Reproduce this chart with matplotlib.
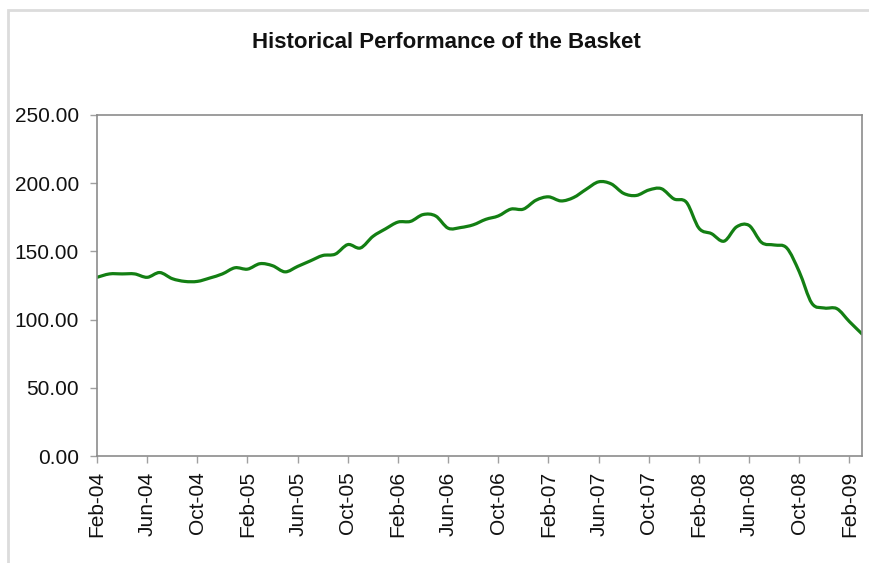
import matplotlib
matplotlib.use("Agg")
import matplotlib.pyplot as plt
from matplotlib.path import Path
from matplotlib.patches import PathPatch, Rectangle
import numpy as np

months = ["Feb-04","Mar-04","Apr-04","May-04","Jun-04","Jul-04","Aug-04","Sep-04","Oct-04","Nov-04","Dec-04",
          "Jan-05","Feb-05","Mar-05","Apr-05","May-05","Jun-05","Jul-05","Aug-05","Sep-05","Oct-05","Nov-05","Dec-05",
          "Jan-06","Feb-06","Mar-06","Apr-06","May-06","Jun-06","Jul-06","Aug-06","Sep-06","Oct-06","Nov-06","Dec-06",
          "Jan-07","Feb-07","Mar-07","Apr-07","May-07","Jun-07","Jul-07","Aug-07","Sep-07","Oct-07","Nov-07","Dec-07",
          "Jan-08","Feb-08","Mar-08","Apr-08","May-08","Jun-08","Jul-08","Aug-08","Sep-08","Oct-08","Nov-08","Dec-08",
          "Jan-09","Feb-09","Mar-09"]
values = [131, 133.5, 133.5, 133.5, 131, 134.5, 130, 128, 128, 130.5, 133.5,
          138, 137, 141, 139.5, 135, 139, 143, 147, 148, 155, 152.5, 161,
          166.5, 171.5, 172, 177, 176, 167, 167.5, 169.5, 173.5, 176, 181, 181,
          187.5, 190, 187, 189.5, 195.5, 201, 199.5, 192.5, 191, 195, 196, 188.5,
          186, 167, 163, 157.5, 168, 169, 156.5, 154.7, 152.5, 135, 112, 108.5,
          108, 98.5, 89.5]
y_ticks = [0, 50, 100, 150, 200, 250]
title = "Historical Performance of the Basket"

plt.rcParams['font.family'] = ['Liberation Sans', 'DejaVu Sans']

fig = plt.figure(figsize=(8.7, 5.63), dpi=100)
ax = fig.add_axes([97/870, 1-456/563, (862-97)/870, (456-115)/563])

# smoothed line (Catmull-Rom style Bezier, like Excel's smoothed line)
x = np.arange(len(values), dtype=float)
y = np.array(values, dtype=float)
verts = [(x[0], y[0])]
codes = [Path.MOVETO]
n = len(x)
for i in range(n - 1):
    p0 = (x[i-1], y[i-1]) if i > 0 else (x[i], y[i])
    p1 = (x[i], y[i])
    p2 = (x[i+1], y[i+1])
    p3 = (x[i+2], y[i+2]) if i + 2 < n else (x[i+1], y[i+1])
    t = 1/6
    c1 = (p1[0] + (p2[0]-p0[0])*t, p1[1] + (p2[1]-p0[1])*t)
    c2 = (p2[0] - (p3[0]-p1[0])*t, p2[1] - (p3[1]-p1[1])*t)
    verts += [c1, c2, p2]
    codes += [Path.CURVE4]*3
patch = PathPatch(Path(verts, codes), facecolor='none', edgecolor='#137f13', lw=2.3,
                  capstyle='round', joinstyle='round')
ax.add_patch(patch)

ax.set_xlim(0, len(values)-1)
ax.set_ylim(0, 250)
ax.set_yticks(y_ticks)
ax.set_yticklabels([f"{v:.2f}" for v in y_ticks], fontsize=15, color='#111111')
ax.set_xticks(x[::4])
ax.set_xticklabels(months[::4], rotation=90, fontsize=15, color='#111111')
for s in ax.spines.values():
    s.set_color('#8c8c8c')
    s.set_linewidth(1.2)
ax.tick_params(axis='both', colors='#a0a0a0', length=5, width=1, direction='out')
ax.tick_params(axis='both', labelcolor='#111111')
ax.tick_params(axis='x', pad=6)
ax.tick_params(axis='y', pad=8)

fig.text(446/870, 1-42/563, title, ha='center', va='center', fontsize=16, fontweight='bold', color='#111111')

fig.patches.append(Rectangle((8/870, -0.05), 1.0, 1-10/563+0.05, transform=fig.transFigure,
                             fill=False, edgecolor='#dcdcdc', lw=2))

fig.savefig("out.png", dpi=100)
